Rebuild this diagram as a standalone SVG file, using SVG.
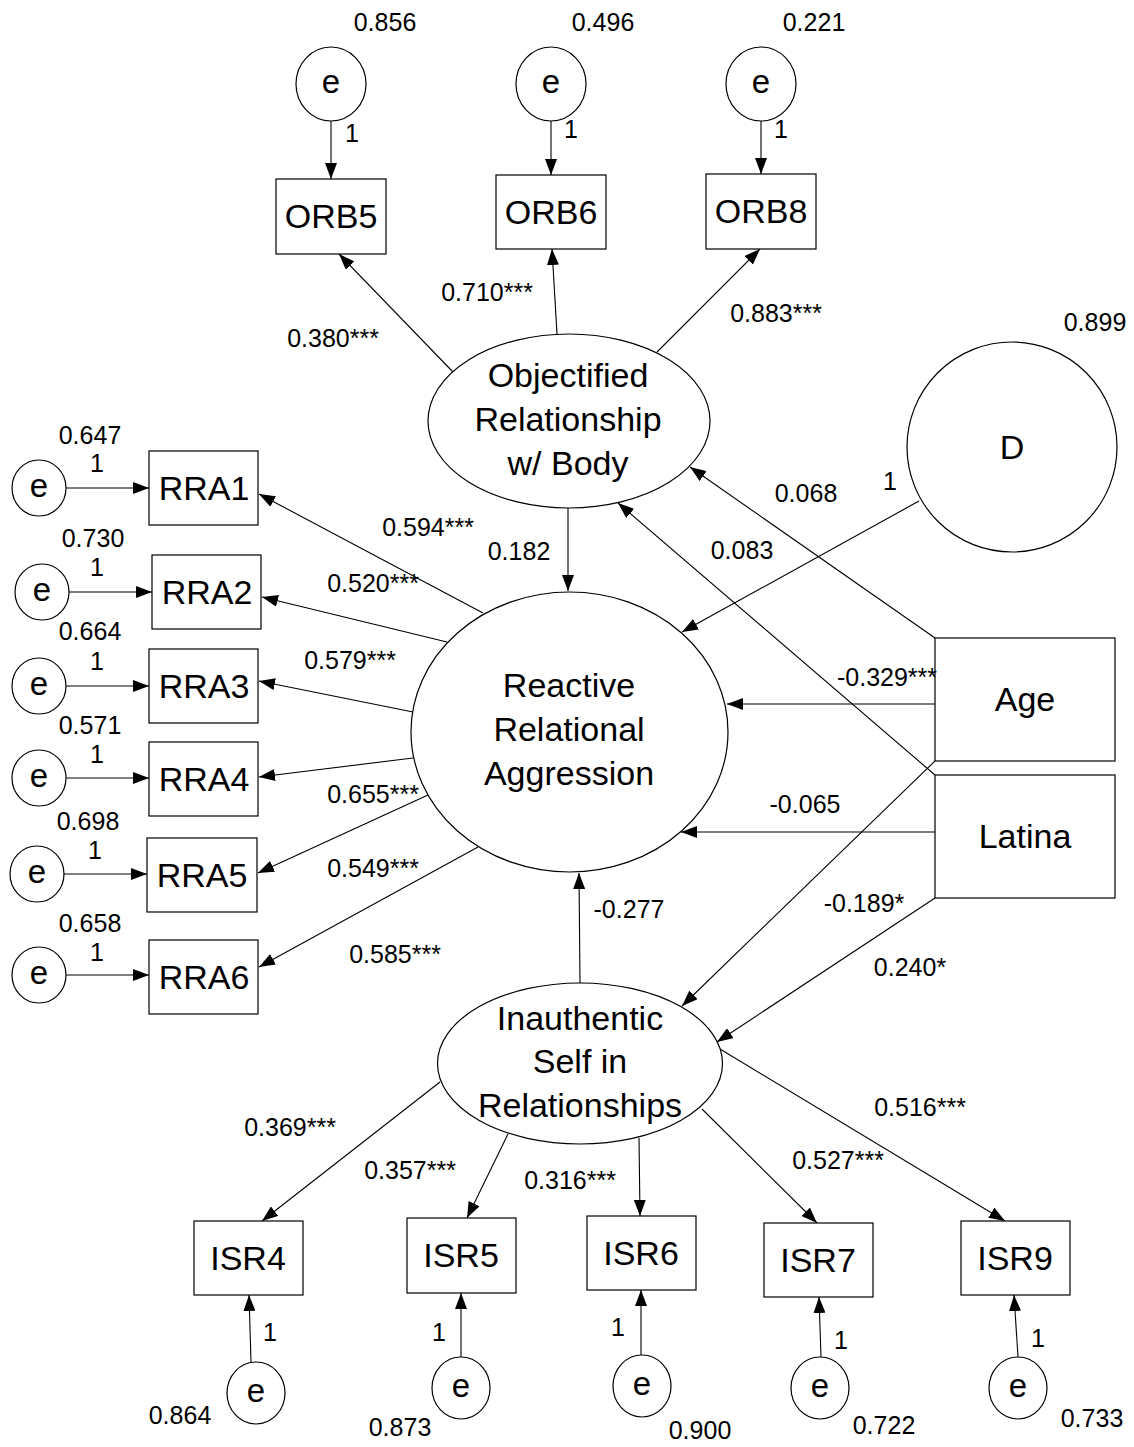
<svg xmlns="http://www.w3.org/2000/svg" width="1134" height="1447" viewBox="0 0 1134 1447">
<style>
.s{fill:#fff;stroke:#000;stroke-width:1.2}
.c line{stroke:#000;stroke-width:1.1;marker-end:url(#ah)}
text{font-family:"Liberation Sans",Arial,sans-serif;fill:#000;text-anchor:middle}
.L{font-size:34px}
.E{font-size:33px}
.n{font-size:25px}
</style>
<defs>
<marker id="ah" viewBox="0 0 16 12" refX="16" refY="6" markerWidth="16" markerHeight="12" markerUnits="userSpaceOnUse" orient="auto">
<path d="M0,0 L16,6 L0,12 z" fill="#000"/>
</marker>
</defs>
<rect width="1134" height="1447" fill="#fff"/>

<g id="connectors" class="c">
<line x1="331" y1="121" x2="331" y2="179"/>
<line x1="551" y1="121" x2="551" y2="175"/>
<line x1="761" y1="121" x2="761" y2="174"/>
<line x1="453" y1="372" x2="339" y2="254"/>
<line x1="557" y1="334" x2="552" y2="249"/>
<line x1="657" y1="352" x2="760" y2="249"/>
<line x1="568" y1="508" x2="568" y2="591"/>
<line x1="919" y1="501" x2="682" y2="632"/>
<line x1="935" y1="638" x2="690" y2="467"/>
<line x1="935" y1="775" x2="618" y2="503"/>
<line x1="935" y1="704" x2="727" y2="704"/>
<line x1="935" y1="832" x2="681" y2="832"/>
<line x1="935" y1="761" x2="682" y2="1006"/>
<line x1="935" y1="898" x2="717" y2="1042"/>
<line x1="580" y1="983" x2="579" y2="873"/>
<line x1="483" y1="613" x2="259" y2="494"/>
<line x1="447" y1="642" x2="262" y2="597"/>
<line x1="413" y1="712" x2="259" y2="681"/>
<line x1="413" y1="758" x2="259" y2="777"/>
<line x1="428" y1="795" x2="258" y2="873"/>
<line x1="478" y1="847" x2="259" y2="967"/>
<line x1="66" y1="488" x2="149" y2="488"/>
<line x1="69" y1="592" x2="152" y2="592"/>
<line x1="66" y1="686" x2="149" y2="686"/>
<line x1="66" y1="778" x2="149" y2="778"/>
<line x1="64" y1="874" x2="147" y2="874"/>
<line x1="66" y1="975" x2="149" y2="975"/>
<line x1="440" y1="1082" x2="262" y2="1221"/>
<line x1="508" y1="1134" x2="467" y2="1218"/>
<line x1="639" y1="1138" x2="640" y2="1216"/>
<line x1="702" y1="1109" x2="817" y2="1223"/>
<line x1="720" y1="1049" x2="1005" y2="1221"/>
<line x1="251" y1="1362" x2="249" y2="1295"/>
<line x1="461" y1="1357" x2="461" y2="1293"/>
<line x1="641" y1="1355" x2="641" y2="1290"/>
<line x1="821" y1="1357" x2="819" y2="1297"/>
<line x1="1018" y1="1357" x2="1014" y2="1295"/>
</g>

<g id="e_orb5"><ellipse class="s" cx="331" cy="84" rx="35" ry="37"/><text class="E" x="331" y="93">e</text></g>
<g id="e_orb6"><ellipse class="s" cx="551" cy="84" rx="35" ry="37"/><text class="E" x="551" y="93">e</text></g>
<g id="e_orb8"><ellipse class="s" cx="761" cy="84" rx="35" ry="37"/><text class="E" x="761" y="93">e</text></g>

<g id="ORB5"><rect class="s" x="276" y="179" width="110" height="75"/><text class="L" x="331" y="228">ORB5</text></g>
<g id="ORB6"><rect class="s" x="496" y="175" width="110" height="74"/><text class="L" x="551" y="224">ORB6</text></g>
<g id="ORB8"><rect class="s" x="706" y="174" width="110" height="75"/><text class="L" x="761" y="223">ORB8</text></g>

<g id="ORB"><ellipse class="s" cx="569" cy="421" rx="141" ry="87"/>
<text class="L" x="568" y="387">Objectified</text><text class="L" x="568" y="431">Relationship</text><text class="L" x="568" y="475">w/ Body</text></g>

<g id="RRA"><ellipse class="s" cx="569.5" cy="732" rx="158.5" ry="140"/>
<text class="L" x="569" y="697">Reactive</text><text class="L" x="569" y="741">Relational</text><text class="L" x="569" y="785">Aggression</text></g>

<g id="ISR"><ellipse class="s" cx="580" cy="1063.5" rx="142.5" ry="80.5"/>
<text class="L" x="580" y="1030">Inauthentic</text><text class="L" x="580" y="1073">Self in</text><text class="L" x="580" y="1117">Relationships</text></g>

<g id="D"><circle class="s" cx="1012" cy="447" r="105"/><text class="L" x="1012" y="459">D</text></g>
<g id="Age"><rect class="s" x="935" y="638" width="180" height="123"/><text class="L" x="1025" y="711">Age</text></g>
<g id="Latina"><rect class="s" x="935" y="775" width="180" height="123"/><text class="L" x="1025" y="848">Latina</text></g>

<g id="RRA1"><rect class="s" x="149" y="451" width="109" height="74"/><text class="L" x="204" y="500">RRA1</text></g>
<g id="RRA2"><rect class="s" x="152" y="555" width="109" height="74"/><text class="L" x="207" y="604">RRA2</text></g>
<g id="RRA3"><rect class="s" x="149" y="649" width="109" height="74"/><text class="L" x="204" y="698">RRA3</text></g>
<g id="RRA4"><rect class="s" x="149" y="742" width="109" height="74"/><text class="L" x="204" y="791">RRA4</text></g>
<g id="RRA5"><rect class="s" x="147" y="838" width="110" height="74"/><text class="L" x="202" y="887">RRA5</text></g>
<g id="RRA6"><rect class="s" x="149" y="940" width="109" height="74"/><text class="L" x="204" y="989">RRA6</text></g>

<g id="e_rra1"><ellipse class="s" cx="39" cy="488" rx="27" ry="28"/><text class="E" x="39" y="497">e</text></g>
<g id="e_rra2"><ellipse class="s" cx="42" cy="592" rx="27" ry="28"/><text class="E" x="42" y="601">e</text></g>
<g id="e_rra3"><ellipse class="s" cx="39" cy="686" rx="27" ry="28"/><text class="E" x="39" y="695">e</text></g>
<g id="e_rra4"><ellipse class="s" cx="39" cy="778" rx="27" ry="28"/><text class="E" x="39" y="787">e</text></g>
<g id="e_rra5"><ellipse class="s" cx="37" cy="874" rx="27" ry="28"/><text class="E" x="37" y="883">e</text></g>
<g id="e_rra6"><ellipse class="s" cx="39" cy="975" rx="27" ry="28"/><text class="E" x="39" y="984">e</text></g>

<g id="ISR4"><rect class="s" x="194" y="1221" width="109" height="74"/><text class="L" x="248" y="1270">ISR4</text></g>
<g id="ISR5"><rect class="s" x="407" y="1218" width="109" height="75"/><text class="L" x="461" y="1267">ISR5</text></g>
<g id="ISR6"><rect class="s" x="587" y="1216" width="109" height="74"/><text class="L" x="641" y="1265">ISR6</text></g>
<g id="ISR7"><rect class="s" x="764" y="1223" width="109" height="74"/><text class="L" x="818" y="1272">ISR7</text></g>
<g id="ISR9"><rect class="s" x="961" y="1221" width="109" height="74"/><text class="L" x="1015" y="1270">ISR9</text></g>

<g id="e_isr4"><ellipse class="s" cx="256" cy="1393" rx="29" ry="31"/><text class="E" x="256" y="1402">e</text></g>
<g id="e_isr5"><ellipse class="s" cx="461" cy="1388" rx="29" ry="31"/><text class="E" x="461" y="1397">e</text></g>
<g id="e_isr6"><ellipse class="s" cx="642" cy="1386" rx="29" ry="31"/><text class="E" x="642" y="1395">e</text></g>
<g id="e_isr7"><ellipse class="s" cx="820" cy="1388" rx="29" ry="31"/><text class="E" x="820" y="1397">e</text></g>
<g id="e_isr9"><ellipse class="s" cx="1018" cy="1388" rx="29" ry="31"/><text class="E" x="1018" y="1397">e</text></g>

<g id="labels" class="n">
<text x="385" y="31">0.856</text>
<text x="603" y="31">0.496</text>
<text x="814" y="31">0.221</text>
<text x="352" y="142">1</text>
<text x="571" y="138">1</text>
<text x="781" y="138">1</text>
<text x="333" y="347">0.380***</text>
<text x="487" y="301">0.710***</text>
<text x="776" y="322">0.883***</text>
<text x="1095" y="331">0.899</text>
<text x="890" y="490">1</text>
<text x="806" y="502">0.068</text>
<text x="742" y="559">0.083</text>
<text x="519" y="560">0.182</text>
<text x="887" y="686">-0.329***</text>
<text x="805" y="813">-0.065</text>
<text x="864" y="912">-0.189*</text>
<text x="910" y="976">0.240*</text>
<text x="629" y="918">-0.277</text>
<text x="428" y="536">0.594***</text>
<text x="373" y="592">0.520***</text>
<text x="350" y="669">0.579***</text>
<text x="373" y="803">0.655***</text>
<text x="373" y="877">0.549***</text>
<text x="395" y="963">0.585***</text>
<text x="90" y="444">0.647</text>
<text x="97" y="472">1</text>
<text x="93" y="547">0.730</text>
<text x="97" y="576">1</text>
<text x="90" y="640">0.664</text>
<text x="97" y="670">1</text>
<text x="90" y="734">0.571</text>
<text x="97" y="763">1</text>
<text x="88" y="830">0.698</text>
<text x="95" y="859">1</text>
<text x="90" y="932">0.658</text>
<text x="97" y="961">1</text>
<text x="290" y="1136">0.369***</text>
<text x="410" y="1179">0.357***</text>
<text x="570" y="1189">0.316***</text>
<text x="838" y="1169">0.527***</text>
<text x="920" y="1116">0.516***</text>
<text x="270" y="1341">1</text>
<text x="439" y="1341">1</text>
<text x="618" y="1336">1</text>
<text x="841" y="1349">1</text>
<text x="1038" y="1347">1</text>
<text x="180" y="1424">0.864</text>
<text x="400" y="1436">0.873</text>
<text x="700" y="1439">0.900</text>
<text x="884" y="1434">0.722</text>
<text x="1092" y="1427">0.733</text>
</g>
</svg>
